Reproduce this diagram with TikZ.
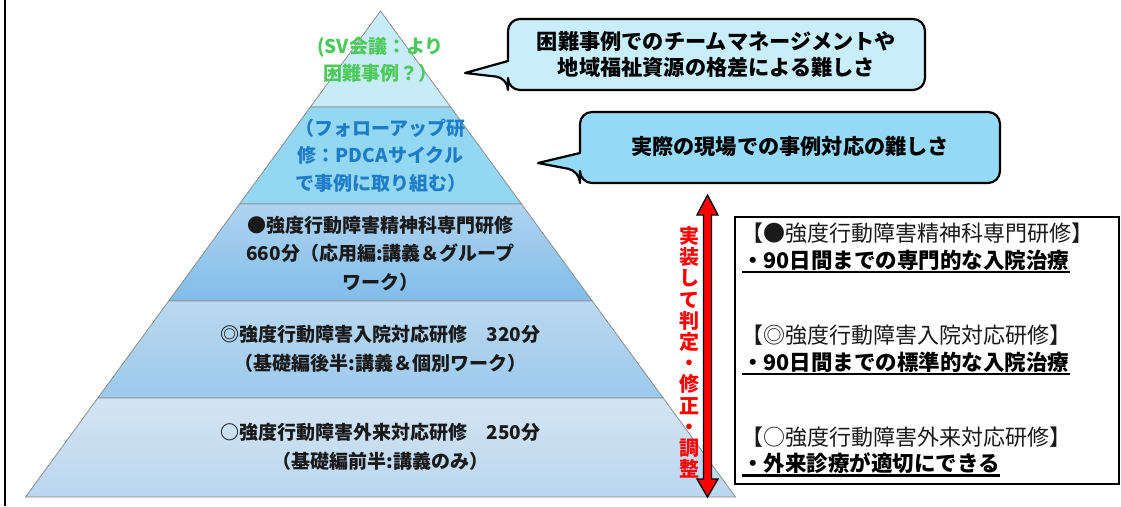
\documentclass[tikz,border=0pt]{standalone}
\usepackage{fontspec}
\setmainfont{Noto Sans CJK JP}
\definecolor{lone}{HTML}{C8EBF8}
\definecolor{ltwo}{HTML}{94D7F3}
\definecolor{lthreeT}{HTML}{B0D3F0}
\definecolor{lthreeB}{HTML}{80BDE8}
\definecolor{lfourT}{HTML}{BAD8F0}
\definecolor{lfourB}{HTML}{9CC9EB}
\definecolor{lfiveT}{HTML}{D3E5F3}
\definecolor{lfiveB}{HTML}{BAD6EE}
\definecolor{edgegray}{HTML}{8C8C8C}
\definecolor{greentxt}{HTML}{4CC95A}
\definecolor{bluetxt}{HTML}{1F7CC6}
\definecolor{bubA}{HTML}{C9EEFB}
\definecolor{bubB}{HTML}{94D9F6}
\definecolor{txtdark}{HTML}{1A1A1A}
\begin{document}
\begin{tikzpicture}[x=1pt,y=-1pt,
  layer/.style={draw=edgegray,line width=0.8pt},
  pyrtext/.style={align=center,inner sep=0pt,font=\fontsize{19}{28.5}\selectfont\bfseries},
  bubble/.style={draw=black,line width=2.2pt,line join=round},
  bubtext/.style={align=center,inner sep=0pt,font=\fontsize{21.2}{26}\selectfont\bfseries,text=black},
  headtext/.style={anchor=west,inner sep=0pt,font=\fontsize{22}{26}\selectfont,text=txtdark},
  boldtext/.style={anchor=west,inner sep=0pt,font=\fontsize{21.5}{26}\selectfont\bfseries,text=black},
  uline/.style={line width=2.6pt,black}]
\useasboundingbox (0,0) rectangle (1121,506);
% left frame line
\draw[line width=2pt] (5,0) -- (5,506);
% pyramid
\path[layer,fill=lone] (380.5,11) -- (450.6,107) -- (310.4,107) -- cycle;
\path[layer,fill=ltwo] (310.4,107) -- (450.6,107) -- (521.5,204) -- (239.5,204) -- cycle;
\path[layer,top color=lthreeT,bottom color=lthreeB] (239.5,204) -- (521.5,204) -- (592.3,301) -- (168.7,301) -- cycle;
\path[layer,top color=lfourT,bottom color=lfourB] (168.7,301) -- (592.3,301) -- (663.2,398) -- (97.8,398) -- cycle;
\path[layer,top color=lfiveT,bottom color=lfiveB] (97.8,398) -- (663.2,398) -- (735.5,497) -- (25.5,497) -- cycle;
\node[pyrtext,text=greentxt,font=\fontsize{19}{27}\selectfont\bfseries] (pone) at (380.5,60) {(SV会議：より\\困難事例？）};
\node[pyrtext,text=bluetxt,font=\fontsize{19}{27.5}\selectfont\bfseries] (ptwo) at (380.5,155.5) {（フォローアップ研\\修：PDCAサイクル\\で事例に取り組む）};
\node[pyrtext,text=txtdark] (pthree) at (380.5,253.5) {●強度行動障害精神科専門研修\\660分（応用編:講義＆グループ\\ワーク）};
\node[pyrtext,text=txtdark] (pfour) at (380.5,349) {◎強度行動障害入院対応研修　320分\\（基礎編後半:講義＆個別ワーク）};
\node[pyrtext,text=txtdark] (pfive) at (380.5,447) {○強度行動障害外来対応研修　250分\\（基礎編前半:講義のみ）};
% bubble 1
\draw[bubble,fill=bubA] (508,45) [rounded corners=12pt] -- (508,19) -- (925,19) -- (925,90) -- (508,90) -- (508,78) [sharp corners] -- (465,73) -- (508,61) -- cycle;
\node[bubtext] (bone) at (716.5,54) {困難事例でのチームマネージメントや\\地域福祉資源の格差による難しさ};
% bubble 2
\draw[bubble,fill=bubB] (580,135) [rounded corners=12pt] -- (580,112) -- (1000,112) -- (1000,183) -- (580,183) -- (580,171) [sharp corners] -- (538,163) -- (580,153) -- cycle;
\node[bubtext] (btwo) at (790,147) {実際の現場での事例対応の難しさ};
% double arrow
\draw[line width=1.3pt,fill=red,draw=black,line join=miter] (707.5,195) -- (718,215) -- (711.5,215) -- (711.5,479) -- (718,479) -- (707.5,497) -- (697,479) -- (703.5,479) -- (703.5,215) -- (697,215) -- cycle;
\node[align=center,inner sep=0pt,text=red,font=\fontsize{20}{21.2}\selectfont\bfseries] (vtext) at (689,352.5) {実\\装\\し\\て\\判\\定\\・\\修\\正\\・\\調\\整};
% right box
\node[draw=black,line width=2pt,minimum width=384pt,minimum height=267pt,inner sep=0pt] (rbox) at (927,350.5) {};
\node[headtext] (hone) at (741,233) {【●強度行動障害精神科専門研修】};
\node[boldtext] (tone) at (742,260) {・90日間までの専門的な入院治療};
\draw[uline] ([yshift=-1.5pt]tone.south west) -- ([yshift=-1.5pt]tone.south east);
\node[headtext] (htwo) at (741,335) {【◎強度行動障害入院対応研修】};
\node[boldtext] (ttwo) at (742,362) {・90日間までの標準的な入院治療};
\draw[uline] ([yshift=-1.5pt]ttwo.south west) -- ([yshift=-1.5pt]ttwo.south east);
\node[headtext] (hthree) at (741,437) {【○強度行動障害外来対応研修】};
\node[boldtext] (tthree) at (742,463) {・外来診療が適切にできる};
\draw[uline] ([yshift=-1.5pt]tthree.south west) -- ([yshift=-1.5pt]tthree.south east);
\end{tikzpicture}
\end{document}
